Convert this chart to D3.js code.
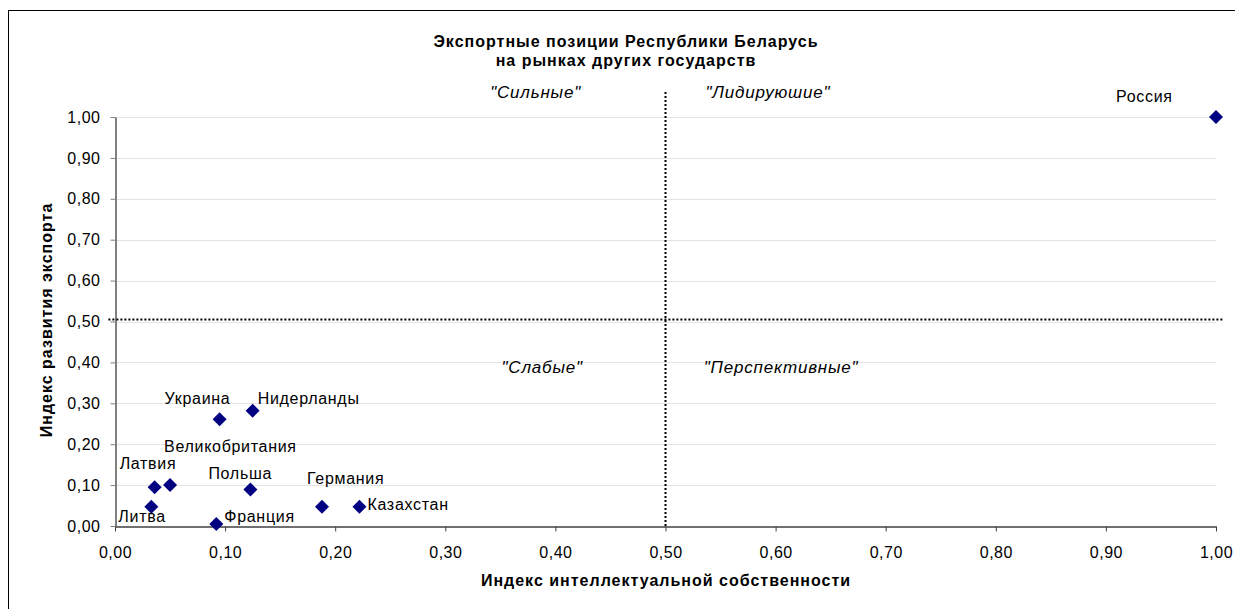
<!DOCTYPE html>
<html>
<head>
  <meta charset="utf-8">
  <title>Экспортные позиции Республики Беларусь</title>
  <script src="https://d3js.org/d3.v7.min.js"></script>
  <style>
    body { margin: 0; background: #fff; }
    text { font-family: Arial, "Liberation Sans", sans-serif; fill: #000; }
    .tick-label { font-size: 16px; letter-spacing: 0.5px; }
    .pt-label { font-size: 16px; letter-spacing: 0.7px; }
    .quad { font-size: 17px; font-style: italic; letter-spacing: 0.8px; }
    .title { font-size: 16px; font-weight: bold; letter-spacing: 1px; }
    .axis-title { font-size: 16px; font-weight: bold; letter-spacing: 1px; }
  </style>
</head>
<body>
<svg id="chart" width="1235" height="609"></svg>
<script>
// data
var countries = ["Россия", "Украина", "Нидерланды", "Великобритания", "Латвия", "Литва", "Польша", "Франция", "Германия", "Казахстан"];
var ipIndex   = [1.000, 0.095, 0.125, 0.050, 0.036, 0.033, 0.123, 0.092, 0.188, 0.222];
var exportIdx = [1.000, 0.261, 0.282, 0.100, 0.095, 0.047, 0.089, 0.005, 0.047, 0.047];
// label offsets from the marker (left edge, baseline)
var labelPos = [
  [-100, -15], [-55, -15], [5, -7], [-6, -33], [-35, -18],
  [-33, 15], [-42, -11], [8, -2], [-15, -23], [8, 3]
];
var tickValues = [0, 0.1, 0.2, 0.3, 0.4, 0.5, 0.6, 0.7, 0.8, 0.9, 1.0];
var quadrants = [
  { name: "\"Сильные\"", x: 0.382, y: 1.046 },
  { name: "\"Лидируюшие\"", x: 0.593, y: 1.046 },
  { name: "\"Слабые\"", x: 0.388, y: 0.374 },
  { name: "\"Перспективные\"", x: 0.605, y: 0.374 }
];
var xSplit = 0.5, ySplit = 0.505;

var svg = d3.select("#chart");

// outer frame
svg.append("rect")
  .attr("x", 8.5).attr("y", 10.5)
  .attr("width", 1240).attr("height", 610)
  .attr("fill", "none").attr("stroke", "#000");

var x = d3.scaleLinear().domain([0, 1]).range([115, 1216]);
var y = d3.scaleLinear().domain([0, 1]).range([526, 117]);

// gridlines
svg.append("g").selectAll("line")
  .data(tickValues.slice(1))
  .enter().append("line")
  .attr("x1", x(0)).attr("x2", x(1))
  .attr("y1", function(d) { return Math.round(y(d)) + 0.5; })
  .attr("y2", function(d) { return Math.round(y(d)) + 0.5; })
  .attr("stroke", "#e3e3e3");

var fmt = function(d) { return d3.format(".2f")(d).replace(".", ","); };

// y axis
var yAxis = svg.append("g")
  .attr("transform", "translate(" + (x(0) + 0.5) + ",0)")
  .call(d3.axisLeft(y).tickValues(tickValues).tickFormat(fmt).tickSize(5).tickSizeOuter(0));
yAxis.select(".domain").attr("stroke", "#808080").attr("stroke-width", 2);
yAxis.selectAll(".tick line").attr("stroke", "#808080");
yAxis.selectAll(".tick text").attr("class", "tick-label").attr("x", -15)
  .attr("font-family", null).attr("font-size", null);

// x axis
var xAxis = svg.append("g")
  .attr("transform", "translate(0," + (y(0) + 0.5) + ")")
  .call(d3.axisBottom(x).tickValues(tickValues).tickFormat(fmt).tickSize(5).tickSizeOuter(0));
xAxis.select(".domain").attr("stroke", "#404040").attr("stroke-width", 1.5);
xAxis.selectAll(".tick line").attr("stroke", "#404040");
xAxis.selectAll(".tick text").attr("class", "tick-label").attr("y", 20)
  .attr("font-family", null).attr("font-size", null);

// quadrant divider lines
svg.append("line")
  .attr("x1", x(xSplit)).attr("x2", x(xSplit))
  .attr("y1", y(0)).attr("y2", y(1.066))
  .attr("stroke", "#000").attr("stroke-width", 2).attr("stroke-dasharray", "2,2");
svg.append("line")
  .attr("x1", x(-0.006)).attr("x2", x(1.006))
  .attr("y1", y(ySplit)).attr("y2", y(ySplit))
  .attr("stroke", "#000").attr("stroke-width", 2).attr("stroke-dasharray", "2,2");

// quadrant labels
svg.append("g").selectAll("text")
  .data(quadrants)
  .enter().append("text")
  .attr("class", "quad")
  .attr("x", function(d) { return x(d.x); })
  .attr("y", function(d) { return y(d.y); })
  .attr("text-anchor", "middle")
  .text(function(d) { return d.name; });

// markers
var pts = countries.map(function(c, i) { return { name: c, x: ipIndex[i], y: exportIdx[i], lp: labelPos[i] }; });
var r = 7;
svg.append("g").selectAll("path")
  .data(pts)
  .enter().append("path")
  .attr("transform", function(d) { return "translate(" + x(d.x) + "," + y(d.y) + ")"; })
  .attr("d", "M0," + (-r) + "L" + r + ",0L0," + r + "L" + (-r) + ",0Z")
  .attr("fill", "#000080");

// point labels
svg.append("g").selectAll("text")
  .data(pts)
  .enter().append("text")
  .attr("class", "pt-label")
  .attr("x", function(d) { return x(d.x) + d.lp[0]; })
  .attr("y", function(d) { return y(d.y) + d.lp[1]; })
  .text(function(d) { return d.name; });

// titles
svg.append("text").attr("class", "title")
  .attr("x", 626).attr("y", 47).attr("text-anchor", "middle")
  .text("Экспортные позиции Республики Беларусь");
svg.append("text").attr("class", "title")
  .attr("x", 626).attr("y", 66).attr("text-anchor", "middle")
  .text("на рынках других государств");

svg.append("text").attr("class", "axis-title")
  .attr("x", 666).attr("y", 586).attr("text-anchor", "middle")
  .text("Индекс интеллектуальной собственности");

svg.append("text").attr("class", "axis-title")
  .attr("transform", "translate(52," + 320 + ") rotate(-90)")
  .attr("text-anchor", "middle")
  .text("Индекс развития экспорта");
</script>
</body>
</html>
